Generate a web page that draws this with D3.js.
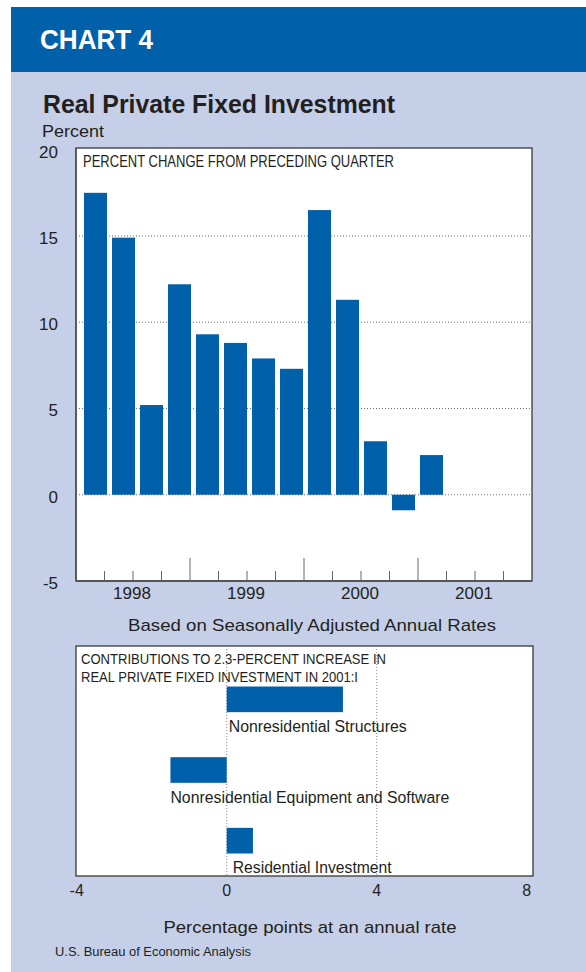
<!DOCTYPE html>
<html>
<head>
<meta charset="utf-8">
<script src="https://cdn.jsdelivr.net/npm/d3@7/dist/d3.min.js"></script>
<style>
  body { margin: 0; background: #ffffff; }
  svg { display: block; }
  text { font-family: "Liberation Sans", Arial, Helvetica, sans-serif; fill: #231f20; }
</style>
</head>
<body>
<svg id="chart" width="586" height="972"></svg>
<script>
// ---- Data -------------------------------------------------------------
const years = ["1998", "1999", "2000", "2001"];
const quarterNames = ["I", "II", "III", "IV"];
// Real private fixed investment, percent change from preceding quarter (SAAR)
const pctChange = [17.5, 14.9, 5.2, 12.2, 9.3, 8.8, 7.9, 7.3, 16.5, 11.3, 3.1, -0.9, 2.3];
const yTicks = [-5, 0, 5, 10, 15, 20];
const yGrid = [0, 5, 10, 15];

// Contributions to the 2001:I increase, percentage points
const components = ["Nonresidential Structures", "Nonresidential Equipment and Software", "Residential Investment"];
const contributions = [3.1, -1.5, 0.7];
const contribTicks = [-4, 0, 4, 8];
const contribGrid = [0, 4];

// ---- Setup ------------------------------------------------------------
const BLUE = "#0061aa";
const PANEL = "#c5cfe7";

const svg = d3.select("#chart");

// background panel and header band
svg.append("rect").attr("x", 11).attr("y", 72).attr("width", 575).attr("height", 900).attr("fill", PANEL);
svg.append("rect").attr("x", 11).attr("y", 7).attr("width", 575).attr("height", 65).attr("fill", BLUE);

svg.append("text").attr("x", 40).attr("y", 49)
  .attr("font-size", 28).attr("font-weight", "bold")
  .attr("textLength", 113).attr("lengthAdjust", "spacingAndGlyphs")
  .style("fill", "#ffffff").text("CHART 4");

svg.append("text").attr("x", 43).attr("y", 113)
  .attr("font-size", 26).attr("font-weight", "bold")
  .attr("textLength", 352).attr("lengthAdjust", "spacingAndGlyphs")
  .text("Real Private Fixed Investment");

svg.append("text").attr("x", 42).attr("y", 137)
  .attr("font-size", 17)
  .attr("textLength", 62).attr("lengthAdjust", "spacingAndGlyphs")
  .text("Percent");

// ---- Top chart: quarterly percent change ------------------------------
const upper = { x0: 76, x1: 532, y0: 148, y1: 581 };

const allQuarters = years.flatMap(yr => quarterNames.map(q => `${yr}:${q}`));
const barQuarters = allQuarters.slice(0, pctChange.length);

const xBar = d3.scaleBand()
  .domain(allQuarters)
  .range([79, upper.x1])
  .padding(5 / 28);

const xQ = d3.scaleLinear().domain([0, allQuarters.length]).range([upper.x0, upper.x1]);

const y = d3.scaleLinear().domain([-5, 20]).range([upper.y1, 149.7]);

const gTop = svg.append("g");
gTop.append("rect")
  .attr("x", upper.x0).attr("y", upper.y0)
  .attr("width", upper.x1 - upper.x0).attr("height", upper.y1 - upper.y0)
  .attr("fill", "#ffffff").attr("stroke", "#2a2a2a").attr("stroke-width", 1.2);

// dotted gridlines
gTop.selectAll("line.grid").data(yGrid).join("line")
  .attr("class", "grid")
  .attr("x1", upper.x0).attr("x2", upper.x1)
  .attr("y1", d => y(d)).attr("y2", d => y(d))
  .attr("stroke", "#707070").attr("stroke-width", 1)
  .attr("stroke-dasharray", "1,2");

// bars
gTop.selectAll("rect.bar").data(pctChange).join("rect")
  .attr("class", "bar")
  .attr("x", (d, i) => xBar(barQuarters[i]))
  .attr("width", xBar.bandwidth())
  .attr("y", d => y(Math.max(0, d)))
  .attr("height", d => Math.abs(y(d) - y(0)))
  .attr("fill", BLUE);

// left and bottom axis lines
gTop.append("line").attr("x1", upper.x0).attr("x2", upper.x0).attr("y1", upper.y0).attr("y2", upper.y1)
  .attr("stroke", "#555").attr("stroke-width", 1.6);
gTop.append("line").attr("x1", upper.x0).attr("x2", upper.x1).attr("y1", upper.y1).attr("y2", upper.y1)
  .attr("stroke", "#555").attr("stroke-width", 1.8);

// quarter ticks (long at year boundaries)
const tickIdx = d3.range(1, allQuarters.length);
gTop.selectAll("line.qtick").data(tickIdx).join("line")
  .attr("class", "qtick")
  .attr("x1", d => xQ(d)).attr("x2", d => xQ(d))
  .attr("y1", upper.y1)
  .attr("y2", d => upper.y1 - (d % 4 === 0 ? 23 : 10))
  .attr("stroke", "#666").attr("stroke-width", 1);

// year labels centred in each year
gTop.selectAll("text.year").data(years).join("text")
  .attr("class", "year")
  .attr("x", (d, i) => xQ(i * 4 + 2) - 1)
  .attr("y", 599)
  .attr("text-anchor", "middle")
  .attr("font-size", 17)
  .text(d => d);

// y tick labels
gTop.selectAll("text.ytick").data(yTicks).join("text")
  .attr("class", "ytick")
  .attr("x", 58)
  .attr("y", d => y(d) + 8)
  .attr("text-anchor", "end")
  .attr("font-size", 17)
  .text(d => d);

gTop.append("text").attr("x", 83).attr("y", 167)
  .attr("font-size", 16)
  .attr("textLength", 311).attr("lengthAdjust", "spacingAndGlyphs")
  .text("PERCENT CHANGE FROM PRECEDING QUARTER");

svg.append("text").attr("x", 128).attr("y", 631)
  .attr("font-size", 17)
  .attr("textLength", 368).attr("lengthAdjust", "spacingAndGlyphs")
  .text("Based on Seasonally Adjusted Annual Rates");

// ---- Bottom chart: contributions ---------------------------------------
const lower = { x0: 76, x1: 533, y0: 646, y1: 876 };

const xc = d3.scaleLinear().domain([-4, 8]).range([76.7, 526.7]);
const yc = d3.scaleBand().domain(components).range([664, 876])
  .paddingInner(0.637).paddingOuter(0.3185);

const gBot = svg.append("g");
gBot.append("rect")
  .attr("x", lower.x0).attr("y", lower.y0)
  .attr("width", lower.x1 - lower.x0).attr("height", lower.y1 - lower.y0)
  .attr("fill", "#ffffff").attr("stroke", "#2a2a2a").attr("stroke-width", 1.2);

gBot.selectAll("line.grid").data(contribGrid).join("line")
  .attr("class", "grid")
  .attr("x1", d => xc(d)).attr("x2", d => xc(d))
  .attr("y1", lower.y0).attr("y2", lower.y1)
  .attr("stroke", "#8a8a8a").attr("stroke-width", 1)
  .attr("stroke-dasharray", "1,2");

gBot.append("text").attr("x", 81).attr("y", 664)
  .attr("font-size", 15.5)
  .attr("textLength", 305).attr("lengthAdjust", "spacingAndGlyphs")
  .text("CONTRIBUTIONS TO 2.3-PERCENT INCREASE IN");
gBot.append("text").attr("x", 81).attr("y", 682)
  .attr("font-size", 15.5)
  .attr("textLength", 277).attr("lengthAdjust", "spacingAndGlyphs")
  .text("REAL PRIVATE FIXED INVESTMENT IN 2001:I");

gBot.selectAll("rect.cbar").data(contributions).join("rect")
  .attr("class", "cbar")
  .attr("x", d => xc(Math.min(0, d)))
  .attr("width", d => Math.abs(xc(d) - xc(0)))
  .attr("y", (d, i) => yc(components[i]))
  .attr("height", yc.bandwidth())
  .attr("fill", BLUE);

// category labels under each bar
const labelWidths = [178, 279, 159];
const labelNudge = [2, 0, 6];
gBot.selectAll("text.clabel").data(components).join("text")
  .attr("class", "clabel")
  .attr("x", (d, i) => xc(Math.min(0, contributions[i])) + labelNudge[i])
  .attr("y", d => yc(d) + yc.bandwidth() + 20)
  .attr("font-size", 16)
  .attr("textLength", (d, i) => labelWidths[i]).attr("lengthAdjust", "spacingAndGlyphs")
  .text(d => d);

svg.selectAll("text.ctick").data(contribTicks).join("text")
  .attr("class", "ctick")
  .attr("x", d => xc(d))
  .attr("y", 896)
  .attr("text-anchor", "middle")
  .attr("font-size", 16)
  .text(d => d);

svg.append("text").attr("x", 310).attr("y", 933)
  .attr("text-anchor", "middle")
  .attr("font-size", 17)
  .attr("textLength", 293).attr("lengthAdjust", "spacingAndGlyphs")
  .text("Percentage points at an annual rate");

svg.append("text").attr("x", 55).attr("y", 956)
  .attr("font-size", 12)
  .attr("textLength", 196).attr("lengthAdjust", "spacingAndGlyphs")
  .text("U.S. Bureau of Economic Analysis");
</script>
</body>
</html>
